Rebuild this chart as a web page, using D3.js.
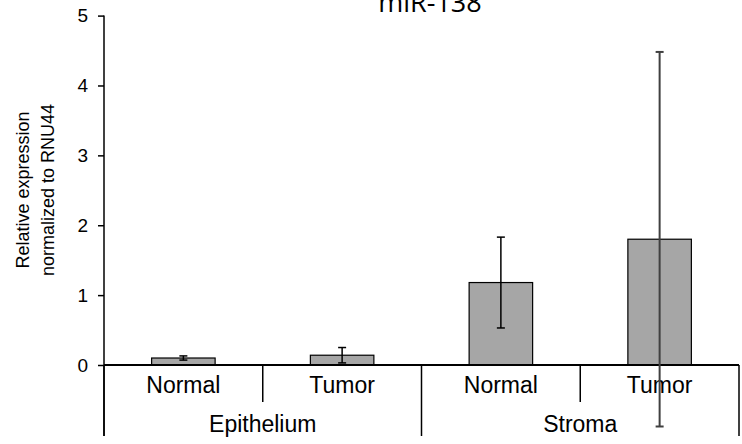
<!DOCTYPE html>
<html>
<head>
<meta charset="utf-8">
<script src="https://cdn.jsdelivr.net/npm/d3@7"></script>
<style>
  html, body { margin: 0; padding: 0; background: #fff; }
  svg { display: block; }
</style>
</head>
<body>
<svg id="chart" width="742" height="444"></svg>
<script>
const title = "miR-138";
const categories = ["Normal", "Tumor", "Normal", "Tumor"];
const groups = ["Epithelium", "Stroma"];
const groupOf = [0, 0, 1, 1];
const values = [0.10, 0.14, 1.18, 1.80];
const errors = [0.03, 0.11, 0.65, 2.68];
const yTicks = [0, 1, 2, 3, 4, 5];
const yTitle = ["Relative expression", "normalized to RNU44"];

(function () {
const svg = d3.select("#chart");
const mLeft = 104, mRight = 739, mTop = 15.6, mBase = 365, mBottom = 436;

const x = d3.scaleBand().domain(d3.range(categories.length)).range([mLeft, mRight]).padding(0);
const y = d3.scaleLinear().domain([0, 5]).range([mBase, mTop]);
const bw = x.bandwidth();
const barW = bw * 0.4;

// Title
svg.append("text")
  .attr("x", 430).attr("y", 12)
  .attr("text-anchor", "middle")
  .attr("font-family", "Open Sans")
  .attr("font-size", 27)
  .text(title);

// Y axis
const yAxis = d3.axisLeft(y).tickValues(yTicks).tickFormat(d3.format("d"))
  .tickSize(6).tickSizeOuter(0).tickPadding(10);
const ga = svg.append("g").attr("transform", `translate(${mLeft},0)`).call(yAxis);
ga.select(".domain").remove();
ga.selectAll(".tick line").attr("stroke", "#000").attr("stroke-width", 1.5);
ga.selectAll(".tick text").attr("font-family", "Liberation Sans, Arial, sans-serif").attr("font-size", 19).attr("fill", "#000");
svg.append("line").attr("x1", mLeft).attr("x2", mLeft).attr("y1", y(5)).attr("y2", mBottom)
  .attr("stroke", "#000").attr("stroke-width", 1.5);

// Y title
const yt = svg.append("text")
  .attr("transform", `translate(0,190) rotate(-90)`)
  .attr("text-anchor", "middle")
  .attr("font-family", "Liberation Sans, Arial, sans-serif")
  .attr("font-size", 18);
yt.append("tspan").attr("x", 0).attr("y", 29).text(yTitle[0]);
yt.append("tspan").attr("x", 0).attr("y", 54).text(yTitle[1]);

// Bars
svg.selectAll("rect.bar").data(values).enter().append("rect")
  .attr("class", "bar")
  .attr("x", (d, i) => x(i) + (bw - barW) / 2)
  .attr("width", barW)
  .attr("y", d => y(d))
  .attr("height", d => y(0) - y(d))
  .attr("fill", "#a6a6a6")
  .attr("stroke", "#000")
  .attr("stroke-width", 1.2);

// Baseline
svg.append("line").attr("x1", mLeft).attr("x2", mRight).attr("y1", y(0)).attr("y2", y(0))
  .attr("stroke", "#000").attr("stroke-width", 2);

// Category separators
const seps = d3.range(categories.length + 1);
svg.selectAll("line.sep").data(seps).enter().append("line")
  .attr("class", "sep")
  .attr("x1", i => i < categories.length ? x(i) : mRight)
  .attr("x2", i => i < categories.length ? x(i) : mRight)
  .attr("y1", y(0))
  .attr("y2", i => (i % 2 === 0) ? mBottom : 402)
  .attr("stroke", "#000").attr("stroke-width", 1.5);

// Category labels
svg.selectAll("text.cat").data(categories).enter().append("text")
  .attr("class", "cat")
  .attr("x", (d, i) => x(i) + bw / 2)
  .attr("y", 393)
  .attr("text-anchor", "middle")
  .attr("font-family", "Liberation Sans, Arial, sans-serif")
  .attr("font-size", 23)
  .text(d => d);

// Group labels
svg.selectAll("text.grp").data(groups).enter().append("text")
  .attr("class", "grp")
  .attr("x", (d, gi) => {
    const idx = groupOf.map((g, i) => g === gi ? i : -1).filter(i => i >= 0);
    return (x(idx[0]) + x(idx[idx.length - 1]) + bw) / 2;
  })
  .attr("y", 432)
  .attr("text-anchor", "middle")
  .attr("font-family", "Liberation Sans, Arial, sans-serif")
  .attr("font-size", 23)
  .text(d => d);

// Error bars
const cap = 4;
const eg = svg.selectAll("g.err").data(values).enter().append("g").attr("class", "err")
  .attr("stroke", (d, i) => i === 3 ? "#404040" : "#000")
  .attr("stroke-width", (d, i) => i === 3 ? 2 : 1.5);
eg.append("line")
  .attr("x1", (d, i) => x(i) + bw / 2).attr("x2", (d, i) => x(i) + bw / 2)
  .attr("y1", (d, i) => y(d + errors[i])).attr("y2", (d, i) => y(d - errors[i]));
eg.append("line")
  .attr("x1", (d, i) => x(i) + bw / 2 - cap).attr("x2", (d, i) => x(i) + bw / 2 + cap)
  .attr("y1", (d, i) => y(d + errors[i])).attr("y2", (d, i) => y(d + errors[i]));
eg.append("line")
  .attr("x1", (d, i) => x(i) + bw / 2 - cap).attr("x2", (d, i) => x(i) + bw / 2 + cap)
  .attr("y1", (d, i) => y(d - errors[i])).attr("y2", (d, i) => y(d - errors[i]));
})();
</script>
</body>
</html>
